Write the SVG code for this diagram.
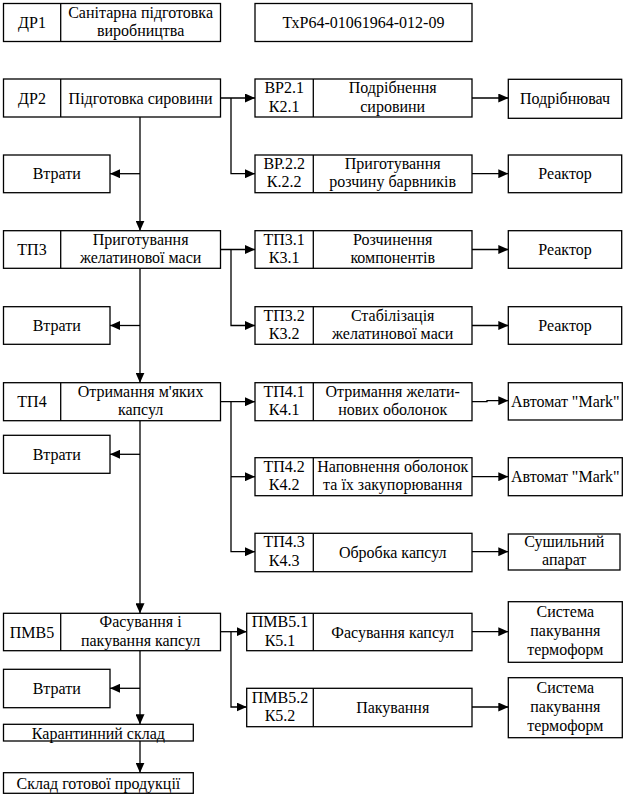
<svg xmlns="http://www.w3.org/2000/svg" width="629" height="795" viewBox="0 0 629 795">
<style>
rect, .d { fill: #fff; stroke: #000; stroke-width: 1.3; }
.d { fill: none; }
text { font-family: "Liberation Serif", "DejaVu Serif", serif; font-size: 16px; fill: #000; text-anchor: middle; }
.c path { fill: none; stroke: #000; stroke-width: 1.3; }
.c path.a { marker-end: url(#ah); }
</style>
<defs>
<marker id="ah" markerUnits="userSpaceOnUse" markerWidth="10" markerHeight="9" refX="10" refY="4.5" orient="auto">
<path d="M0,0 L10,4.5 L0,9 z" fill="#000"/>
</marker>
</defs>

<g class="c" id="connectors">
<path class="a" d="M220.5,98 H255"/>
<path class="a" d="M231,98 V173.7 H255"/>
<path class="a" d="M140,117 V230.7"/>
<path class="a" d="M140,173.7 H110"/>
<path class="a" d="M220.5,249.5 H255"/>
<path class="a" d="M231,249.5 V325.5 H255"/>
<path class="a" d="M140,268.3 V382.7"/>
<path class="a" d="M140,325.5 H110"/>
<path class="a" d="M220.5,401.7 H255"/>
<path class="a" d="M231,401.7 V551.7 H255"/>
<path class="a" d="M231,476.7 H255"/>
<path class="a" d="M140,420.7 V613.3"/>
<path class="a" d="M140,454.3 H110"/>
<path class="a" d="M220.5,631.7 H246.7"/>
<path class="a" d="M231,631.7 V707 H246.7"/>
<path class="a" d="M140,650.7 V724.3"/>
<path class="a" d="M140,688.3 H110"/>
<path class="a" d="M140,741 V772.7"/>
<path class="a" d="M472,98 H508.3"/>
<path class="a" d="M472,173.7 H508.3"/>
<path class="a" d="M472,249.5 H508.3"/>
<path class="a" d="M472,325.5 H508.3"/>
<path class="a" d="M472,401.7 H487 V400.7 H508.3"/>
<path class="a" d="M472,476.7 H508.3"/>
<path class="a" d="M472,551.7 H508.3"/>
<path class="a" d="M472,631.7 H508.3"/>
<path class="a" d="M472,707 H508.3"/>
</g>

<g id="dr1">
<rect x="3.5" y="3.5" width="217" height="38"/>
<path class="d" d="M60.7,3.5 V41.5"/>
<text x="32" y="28">ДР1</text>
<text x="140.6" y="17.5">Санітарна підготовка</text>
<text x="140.6" y="36">виробництва</text>
</g>
<g id="code">
<rect x="255" y="3.5" width="217" height="38"/>
<text x="363.5" y="28">ТхР64-01061964-012-09</text>
</g>

<g id="dr2">
<rect x="3.5" y="79" width="217" height="38"/>
<path class="d" d="M60.7,79 V117"/>
<text x="32" y="103.5">ДР2</text>
<text x="140.6" y="103.5">Підготовка сировини</text>
</g>
<g id="vtraty1">
<rect x="3.5" y="155" width="106.5" height="37.7"/>
<text x="56.7" y="179.3">Втрати</text>
</g>
<g id="bp21">
<rect x="255" y="79" width="217" height="38"/>
<path class="d" d="M313.3,79 V117"/>
<text x="284.2" y="93">ВР2.1</text>
<text x="284.2" y="111.5">К2.1</text>
<text x="392.7" y="93">Подрібнення</text>
<text x="392.7" y="111.5">сировини</text>
</g>
<g id="eq21">
<rect x="508.3" y="79.3" width="113.4" height="39"/>
<text x="565" y="104">Подрібнювач</text>
</g>
<g id="bp22">
<rect x="255" y="155" width="217" height="37.7"/>
<path class="d" d="M313.3,155 V192.7"/>
<text x="284.2" y="168.7">ВР.2.2</text>
<text x="284.2" y="187.2">К.2.2</text>
<text x="392.7" y="168.7">Приготування</text>
<text x="392.7" y="187.2">розчину барвників</text>
</g>
<g id="eq22">
<rect x="508.3" y="155" width="113.4" height="37.7"/>
<text x="565" y="179.3">Реактор</text>
</g>

<g id="tp3">
<rect x="3.5" y="230.7" width="217" height="37.6"/>
<path class="d" d="M60.7,230.7 V268.3"/>
<text x="32" y="255">ТП3</text>
<text x="140.6" y="244.5">Приготування</text>
<text x="140.6" y="263">желатинової маси</text>
</g>
<g id="vtraty2">
<rect x="3.5" y="306.7" width="106.5" height="37.6"/>
<text x="56.7" y="331">Втрати</text>
</g>
<g id="tp31">
<rect x="255" y="230.7" width="217" height="37.6"/>
<path class="d" d="M313.3,230.7 V268.3"/>
<text x="284.2" y="244.5">ТП3.1</text>
<text x="284.2" y="263">К3.1</text>
<text x="392.7" y="244.5">Розчинення</text>
<text x="392.7" y="263">компонентів</text>
</g>
<g id="eq31">
<rect x="508.3" y="230.7" width="113.4" height="37.6"/>
<text x="565" y="255">Реактор</text>
</g>
<g id="tp32">
<rect x="255" y="306.7" width="217" height="37.6"/>
<path class="d" d="M313.3,306.7 V344.3"/>
<text x="284.2" y="320.5">ТП3.2</text>
<text x="284.2" y="339">К3.2</text>
<text x="392.7" y="320.5">Стабілізація</text>
<text x="392.7" y="339">желатинової маси</text>
</g>
<g id="eq32">
<rect x="508.3" y="306.7" width="113.4" height="37.6"/>
<text x="565" y="331">Реактор</text>
</g>

<g id="tp4">
<rect x="3.5" y="382.7" width="217" height="38"/>
<path class="d" d="M60.7,382.7 V420.7"/>
<text x="32" y="407.2">ТП4</text>
<text x="140.6" y="396.7">Отримання м'яких</text>
<text x="140.6" y="415.2">капсул</text>
</g>
<g id="vtraty3">
<rect x="3.5" y="435.3" width="106.5" height="38"/>
<text x="56.7" y="459.8">Втрати</text>
</g>
<g id="tp41">
<rect x="255" y="382.7" width="217" height="38"/>
<path class="d" d="M313.3,382.7 V420.7"/>
<text x="284.2" y="396.7">ТП4.1</text>
<text x="284.2" y="415.2">К4.1</text>
<text x="392.7" y="396.7">Отримання желати-</text>
<text x="392.7" y="415.2">нових оболонок</text>
</g>
<g id="eq41">
<rect x="508.3" y="382.7" width="114" height="37.3"/>
<text x="565.3" y="406.8">Автомат "Mark"</text>
</g>
<g id="tp42">
<rect x="255" y="457.7" width="217" height="38"/>
<path class="d" d="M313.3,457.7 V495.7"/>
<text x="284.2" y="471.7">ТП4.2</text>
<text x="284.2" y="490.2">К4.2</text>
<text x="392.7" y="471.7">Наповнення оболонок</text>
<text x="392.7" y="490.2">та їх закупорювання</text>
</g>
<g id="eq42">
<rect x="508.3" y="457.7" width="114" height="38"/>
<text x="565.3" y="482">Автомат "Mark"</text>
</g>
<g id="tp43">
<rect x="255" y="533.3" width="217" height="38.4"/>
<path class="d" d="M313.3,533.3 V571.7"/>
<text x="284.2" y="547">ТП4.3</text>
<text x="284.2" y="565.5">К4.3</text>
<text x="392.7" y="557.5">Обробка капсул</text>
</g>
<g id="eq43">
<rect x="508.3" y="534" width="111.7" height="36"/>
<text x="564.2" y="546.5">Сушильний</text>
<text x="564.2" y="565">апарат</text>
</g>

<g id="pmb5">
<rect x="3.5" y="613.3" width="217" height="37.4"/>
<path class="d" d="M60.7,613.3 V650.7"/>
<text x="32" y="637.5">ПМВ5</text>
<text x="140.6" y="627">Фасування і</text>
<text x="140.6" y="645.5">пакування капсул</text>
</g>
<g id="vtraty4">
<rect x="3.5" y="669.3" width="106.5" height="38.4"/>
<text x="56.7" y="694">Втрати</text>
</g>
<g id="pmb51">
<rect x="246.7" y="613.3" width="225.3" height="37.4"/>
<path class="d" d="M313.3,613.3 V650.7"/>
<text x="280" y="627">ПМВ5.1</text>
<text x="280" y="645.5">К5.1</text>
<text x="392.7" y="637.5">Фасування капсул</text>
</g>
<g id="eq51">
<rect x="508.3" y="601.7" width="114" height="60.6"/>
<text x="565.3" y="616.5">Система</text>
<text x="565.3" y="635.5">пакування</text>
<text x="565.3" y="654.5">термоформ</text>
</g>
<g id="pmb52">
<rect x="246.7" y="688.3" width="225.3" height="38.4"/>
<path class="d" d="M313.3,688.3 V726.7"/>
<text x="280" y="702.5">ПМВ5.2</text>
<text x="280" y="721">К5.2</text>
<text x="392.7" y="713">Пакування</text>
</g>
<g id="eq52">
<rect x="508.3" y="677.7" width="114" height="60"/>
<text x="565.3" y="692.5">Система</text>
<text x="565.3" y="711.5">пакування</text>
<text x="565.3" y="730.5">термоформ</text>
</g>

<g id="karantyn">
<rect x="3.5" y="724.3" width="189.8" height="16.7"/>
<text x="98.4" y="738.5">Карантинний склад</text>
</g>
<g id="sklad">
<rect x="3.5" y="772.7" width="189.8" height="20.6"/>
<text x="98.4" y="789">Склад готової продукції</text>
</g>
</svg>
